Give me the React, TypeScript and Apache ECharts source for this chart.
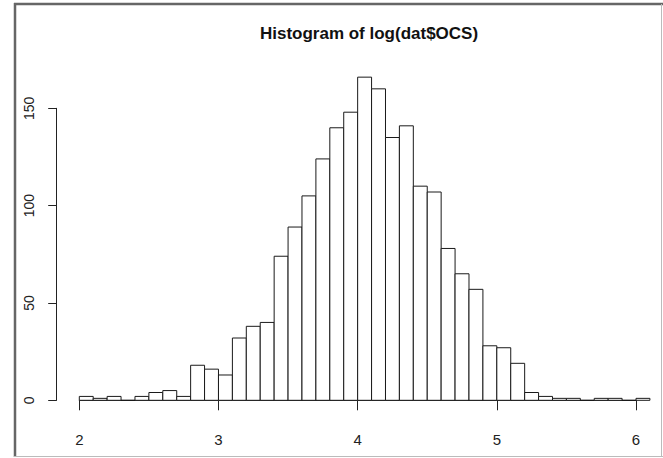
import React, { useEffect, useRef } from "react";
import * as echarts from "echarts";

// Histogram bin edges (log(dat$OCS)), width 0.1
const binEdges = [
  2.0, 2.1, 2.2, 2.3, 2.4, 2.5, 2.6, 2.7, 2.8, 2.9,
  3.0, 3.1, 3.2, 3.3, 3.4, 3.5, 3.6, 3.7, 3.8, 3.9,
  4.0, 4.1, 4.2, 4.3, 4.4, 4.5, 4.6, 4.7, 4.8, 4.9,
  5.0, 5.1, 5.2, 5.3, 5.4, 5.5, 5.6, 5.7, 5.8, 5.9,
  6.0, 6.1,
];
// Frequencies per bin
const counts = [
  2, 1, 2, 0, 2, 4, 5, 2, 18, 16,
  13, 32, 38, 40, 74, 89, 105, 124, 140, 148,
  166, 160, 135, 141, 110, 107, 78, 65, 57, 28,
  27, 19, 4, 2, 1, 1, 0, 1, 1, 0,
  1,
];
const xTicks = [2, 3, 4, 5, 6];
const yTicks = [0, 50, 100, 150];
const chartTitle = "Histogram of log(dat$OCS)";

const FONT = '"Liberation Sans", Arial, Helvetica, sans-serif';

export default function App() {
  const ref = useRef<HTMLDivElement>(null);

  useEffect(() => {
    if (!ref.current) return;
    const chart = echarts.init(ref.current, undefined, { renderer: "svg" });
    const data = counts.map((c, i) => [binEdges[i], binEdges[i + 1], c]);
    const W = 663;
    const H = 458;
    chart.setOption({
      animation: false,
      backgroundColor: "#ffffff",
      title: {
        text: chartTitle,
        left: 364,
        top: 20,
        textAlign: "center",
        textStyle: {
          fontFamily: FONT,
          fontSize: 17,
          fontWeight: "bold",
          color: "#111",
        },
      },
      grid: {
        left: 79.3,
        right: W - 636,
        top: 108.3,
        bottom: H - 400.3,
        containLabel: false,
      },
      xAxis: {
        type: "value",
        min: xTicks[0],
        max: xTicks[xTicks.length - 1],
        interval: 1,
        position: "bottom",
        offset: 13,
        axisLine: { show: true, lineStyle: { color: "#222", width: 1 } },
        axisTick: { show: true, length: 10, lineStyle: { color: "#222" } },
        splitLine: { show: false },
        axisLabel: {
          fontFamily: FONT,
          fontSize: 15,
          color: "#222",
          margin: 19,
          showMinLabel: true,
          showMaxLabel: true,
        },
      },
      yAxis: {
        type: "value",
        min: yTicks[0],
        max: yTicks[yTicks.length - 1],
        interval: 50,
        position: "left",
        offset: 79.3 - 56.7,
        axisLine: { show: true, lineStyle: { color: "#222", width: 1 } },
        axisTick: { show: true, length: 8.5, lineStyle: { color: "#222" } },
        splitLine: { show: false },
        axisLabel: {
          fontFamily: FONT,
          fontSize: 14,
          color: "#222",
          rotate: 90,
          margin: 21,
          showMinLabel: true,
          showMaxLabel: true,
        },
      },
      graphic: [
        {
          type: "line",
          shape: { x1: 15, y1: 3, x2: 15, y2: 457 },
          style: { stroke: "#666", lineWidth: 2.5 },
          silent: true,
        },
        {
          type: "line",
          shape: { x1: 14, y1: 4, x2: 663, y2: 4 },
          style: { stroke: "#666", lineWidth: 2.5 },
          silent: true,
        },
        {
          type: "line",
          shape: { x1: 661.5, y1: 4, x2: 661.5, y2: 457 },
          style: { stroke: "#bbb", lineWidth: 1 },
          silent: true,
        },
        {
          type: "line",
          shape: { x1: 14, y1: 456.5, x2: 663, y2: 456.5 },
          style: { stroke: "#bbb", lineWidth: 1 },
          silent: true,
        },
      ],
      series: [
        {
          type: "custom",
          clip: false,
          encode: { x: [0, 1], y: 2 },
          data,
          renderItem: (params: any, api: any) => {
            const p0 = api.coord([api.value(0), api.value(2)]);
            const p1 = api.coord([api.value(1), 0]);
            return {
              type: "rect",
              shape: {
                x: p0[0],
                y: p0[1],
                width: p1[0] - p0[0],
                height: p1[1] - p0[1],
              },
              style: { fill: "#ffffff", stroke: "#1a1a1a", lineWidth: 1 },
            };
          },
        },
      ],
    });
    return () => chart.dispose();
  }, []);

  return (
    <div
      ref={ref}
      style={{ position: "fixed", left: 0, top: 0, width: 663, height: 458 }}
    />
  );
}
